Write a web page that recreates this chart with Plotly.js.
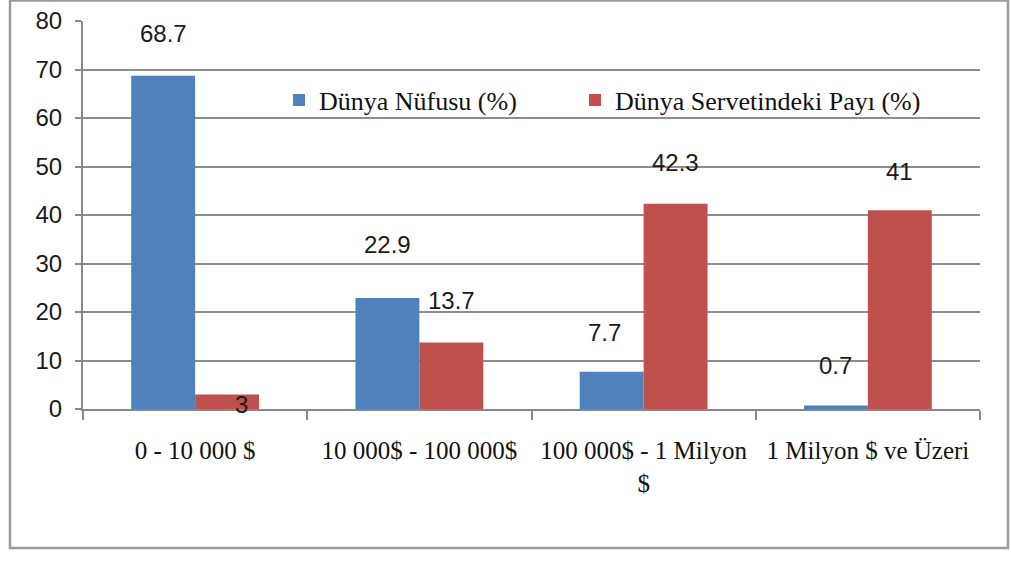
<!DOCTYPE html>
<html>
<head>
<meta charset="utf-8">
<script src="https://cdn.plot.ly/plotly-3.0.1.min.js"></script>
<style>html,body{margin:0;padding:0;background:#fff;}#chart{width:1011px;height:561px;}</style>
</head>
<body>
<div id="chart"></div>
<script>
// ---- data ----
const categories = ["0 - 10 000 $", "10 000$ - 100 000$", "100 000$ - 1 Milyon<br>$", "1 Milyon $ ve Üzeri"];
const seriesNames = ["Dünya Nüfusu (%)", "Dünya Servetindeki Payı (%)"];
const nufus = [68.7, 22.9, 7.7, 0.7];
const servet = [3, 13.7, 42.3, 41];
const yTicks = [0, 10, 20, 30, 40, 50, 60, 70, 80];

// ---- style / label placement (pixels) ----
const blue = "#4F81BD", red = "#C0504D";
const labelShiftNufus = [[0, 42], [0, 53], [-7, 39], [0, 40]];
const labelShiftServet = [[14, -10], [0, 42], [0, 41], [0, 39]];
const halfBar = 32;
const numFont = {family: "Liberation Sans Narrow, Liberation Sans, Arial, sans-serif", size: 24, color: "#1a1a1a"};
const serifFont = {family: "Liberation Serif, Times New Roman, serif", size: 25, color: "#111"};
const legendFont = {family: "Liberation Serif, Times New Roman, serif", size: 26, color: "#111"};

const traces = [
  {type: "bar", name: seriesNames[0], x: categories, y: nufus, marker: {color: blue}, hoverinfo: "skip", legend: "legend"},
  {type: "bar", name: seriesNames[1], x: categories, y: servet, marker: {color: red}, hoverinfo: "skip", legend: "legend2"}
];

const annotations = [];
categories.forEach((c, i) => {
  annotations.push({x: c, y: nufus[i], xref: "x", yref: "y", text: String(nufus[i]), showarrow: false,
    xshift: -halfBar + labelShiftNufus[i][0], yshift: labelShiftNufus[i][1], yanchor: "middle", font: numFont});
  annotations.push({x: c, y: servet[i], xref: "x", yref: "y", text: String(servet[i]), showarrow: false,
    xshift: halfBar + labelShiftServet[i][0], yshift: labelShiftServet[i][1], yanchor: "middle", font: numFont});
});

const legendBase = {orientation: "h", xanchor: "left", yanchor: "middle", y: 0.796,
  font: legendFont, bgcolor: "rgba(0,0,0,0)", itemwidth: 30};

const layout = {
  width: 1011, height: 561,
  margin: {l: 83, r: 31, t: 21, b: 152},
  paper_bgcolor: "#fff", plot_bgcolor: "#fff",
  barmode: "group", bargap: 0.43, bargroupgap: 0,
  showlegend: true,
  legend: Object.assign({}, legendBase, {x: 0.2185}),
  legend2: Object.assign({}, legendBase, {x: 0.5485}),
  xaxis: {type: "category", showgrid: false, showline: true, linecolor: "#888", linewidth: 2,
    ticks: "outside", tickson: "boundaries", ticklen: 9, tickwidth: 2, tickcolor: "#888",
    tickfont: serifFont, ticklabelstandoff: 18, fixedrange: true},
  yaxis: {range: [0, 80], tickvals: yTicks, showgrid: true, gridcolor: "#8c8c8c", gridwidth: 2,
    zeroline: false, showline: true, linecolor: "#888", linewidth: 2,
    ticks: "outside", ticklen: 6, tickwidth: 2, tickcolor: "#888",
    tickfont: numFont, ticklabelstandoff: 8, fixedrange: true},
  annotations: annotations,
  shapes: [{type: "rect", xref: "paper", yref: "paper",
    x0: (10 - 83) / 897, x1: (1008 - 83) / 897, y0: (409 - 548) / 388, y1: (409 - 0.5) / 388,
    line: {color: "#9a9a9a", width: 2.5}, fillcolor: "rgba(0,0,0,0)", layer: "below"}]
};

Plotly.newPlot("chart", traces, layout, {displayModeBar: false, staticPlot: true});
</script>
</body>
</html>
